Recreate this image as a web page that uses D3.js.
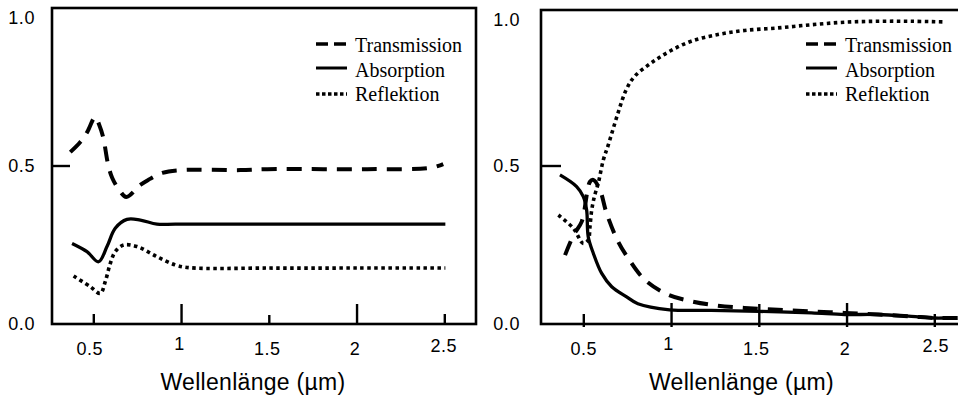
<!DOCTYPE html>
<html>
<head>
<meta charset="utf-8">
<script src="https://cdn.jsdelivr.net/npm/d3@7"></script>
<style>
  html, body { margin: 0; padding: 0; background: #fff; }
  svg { display: block; }
</style>
</head>
<body>
<svg id="chart" width="958" height="398"></svg>
<script>
// ---- Data: wavelength (µm) and fraction of incident radiation ----
// Left panel
const leftTransX = [0.369, 0.426, 0.466, 0.511, 0.534, 0.557, 0.585, 0.608, 0.648, 0.688, 0.768, 0.813, 0.893, 0.996, 1.338, 1.491, 2.061, 2.42, 2.494];
const leftTransY = [0.544, 0.576, 0.608, 0.655, 0.630, 0.589, 0.503, 0.462, 0.424, 0.402, 0.440, 0.456, 0.478, 0.487, 0.487, 0.490, 0.490, 0.494, 0.506];
const leftAbsX = [0.379, 0.464, 0.530, 0.578, 0.625, 0.692, 0.768, 0.863, 0.967, 1.5, 2.0, 2.506];
const leftAbsY = [0.255, 0.229, 0.197, 0.245, 0.303, 0.331, 0.329, 0.316, 0.316, 0.316, 0.316, 0.316];
const leftReflX = [0.388, 0.483, 0.540, 0.568, 0.597, 0.625, 0.673, 0.749, 0.863, 0.967, 1.053, 1.5, 2.0, 2.506];
const leftReflY = [0.152, 0.118, 0.097, 0.134, 0.192, 0.229, 0.250, 0.245, 0.213, 0.187, 0.178, 0.177, 0.177, 0.177];

// Right panel
const rightTransX = [0.396, 0.445, 0.491, 0.538, 0.557, 0.595, 0.633, 0.699, 0.756, 0.852, 0.982, 1.115, 1.267, 1.419, 1.609, 1.80, 1.989, 2.179, 2.369, 2.498, 2.635];
const rightTransY = [0.218, 0.282, 0.324, 0.450, 0.456, 0.424, 0.350, 0.260, 0.208, 0.139, 0.093, 0.072, 0.058, 0.051, 0.045, 0.040, 0.035, 0.030, 0.024, 0.019, 0.019];
const rightAbsX = [0.367, 0.462, 0.500, 0.519, 0.528, 0.557, 0.605, 0.662, 0.747, 0.811, 0.992, 1.229, 1.501, 1.80, 1.989, 2.179, 2.369, 2.498, 2.559];
const rightAbsY = [0.472, 0.435, 0.403, 0.361, 0.276, 0.224, 0.160, 0.118, 0.086, 0.064, 0.045, 0.043, 0.040, 0.035, 0.030, 0.030, 0.024, 0.019, 0.019];
const rightReflX = [0.358, 0.443, 0.500, 0.528, 0.538, 0.548, 0.563, 0.585, 0.614, 0.642, 0.698, 0.745, 0.793, 0.887, 0.992, 1.115, 1.267, 1.419, 1.609, 1.80, 1.989, 2.179, 2.369, 2.549];
const rightReflY = [0.345, 0.303, 0.255, 0.266, 0.308, 0.361, 0.403, 0.445, 0.519, 0.566, 0.668, 0.742, 0.784, 0.826, 0.863, 0.895, 0.916, 0.929, 0.937, 0.947, 0.955, 0.958, 0.958, 0.956];

// Axis ticks and labels
const xTickValues = [0.5, 1, 1.5, 2, 2.5];
const xTickLabels = ["0.5", "1", "1.5", "2", "2.5"];
const yTickValues = [0, 0.5, 1];
const yTickLabels = ["0.0", "0.5", "1.0"];
const seriesNames = ["Transmission", "Absorption", "Reflektion"];
const xAxisTitle = "Wellenlänge (µm)";

// ---- Layout and styles ----
const seriesStyle = [
  { width: 4,   dash: "15,10",   legendDash: "12,6" },
  { width: 3.3, dash: null,      legendDash: null },
  { width: 3.6, dash: "3.5,3.5", legendDash: "3.5,2.5" }
];

const panels = [
  {
    frame: { x0: 52, y0: 8, x1: 476, y1: 324 },
    xRange: [93.3, 444.3],
    yTickLen: 18,
    xTickLen: [10, 20, 9, 20, 10],
    xTickOut: 0,
    xLabelNudge: [0, -5, 0, 0, -3],
    xLabelShift: [-4, -2, -2, -2, -1],
    yLabelGap: 17,
    legendLine: [316, 347],
    legendText: 355,
    series: [
      { x: leftTransX, y: leftTransY },
      { x: leftAbsX, y: leftAbsY },
      { x: leftReflX, y: leftReflY }
    ]
  },
  {
    frame: { x0: 541, y0: 10, x1: 964, y1: 324 },
    xRange: [583.3, 934.3],
    yTickLen: 20,
    xTickLen: [10, 21, 20, 21, 10],
    xTickOut: 3,
    xLabelNudge: [0, -5, 0, 0, -3],
    xLabelShift: [0, -3, -3, -2, 1],
    yLabelGap: 21,
    legendLine: [806, 837],
    legendText: 845,
    series: [
      { x: rightTransX, y: rightTransY },
      { x: rightAbsX, y: rightAbsY },
      { x: rightReflX, y: rightReflY }
    ]
  }
];

const legendRows = [44, 68, 94];
const legendBaselines = [52, 77, 101];
const sansFont = "'Liberation Sans', Arial, Helvetica, sans-serif";

const svg = d3.select("#chart");

panels.forEach(p => {
  const f = p.frame;
  const x = d3.scaleLinear().domain([0.5, 2.5]).range(p.xRange);
  const y = d3.scaleLinear().domain([0, 1]).range([324, 8]);
  const g = svg.append("g");

  // curves
  const line = d3.line()
    .x(d => x(d[0]))
    .y(d => y(d[1]))
    .curve(d3.curveCatmullRom.alpha(0.5));

  p.series.forEach((s, i) => {
    const pts = s.x.map((v, k) => [v, s.y[k]]);
    const st = seriesStyle[i];
    g.append("path")
      .attr("d", line(pts))
      .attr("fill", "none")
      .attr("stroke", "#000")
      .attr("stroke-width", st.width)
      .attr("stroke-linejoin", "round")
      .attr("stroke-dasharray", st.dash);
  });

  // frame
  g.append("rect")
    .attr("x", f.x0).attr("y", f.y0)
    .attr("width", f.x1 - f.x0).attr("height", f.y1 - f.y0)
    .attr("fill", "none").attr("stroke", "#000").attr("stroke-width", 2.6);

  // x axis: ticks pointing into the plot, of alternating length
  const xAxis = d3.axisBottom(x)
    .tickValues(xTickValues)
    .tickFormat((d, i) => xTickLabels[i])
    .tickSizeOuter(0);
  const xg = g.append("g").attr("transform", `translate(0,${f.y1})`).call(xAxis)
    .attr("font-family", sansFont).attr("font-size", 18);
  xg.select(".domain").remove();
  xg.selectAll(".tick line")
    .attr("y1", p.xTickOut)
    .attr("y2", (d, i) => -p.xTickLen[i])
    .attr("stroke", "#000").attr("stroke-width", 2.4);
  xg.selectAll(".tick text")
    .attr("y", (d, i) => 31 + p.xLabelNudge[i])
    .attr("dy", 0)
    .attr("x", (d, i) => p.xLabelShift[i])
    .attr("fill", "#000")
    .style("letter-spacing", "0.6px");

  // y axis: labels outside, a single tick at 0.5
  const yAxis = d3.axisLeft(y)
    .tickValues(yTickValues)
    .tickFormat((d, i) => yTickLabels[i])
    .tickSizeOuter(0);
  const yg = g.append("g").attr("transform", `translate(${f.x0},0)`).call(yAxis)
    .attr("font-family", sansFont).attr("font-size", 18);
  yg.select(".domain").remove();
  yg.selectAll(".tick").attr("transform", null);
  yg.selectAll(".tick line")
    .attr("x1", 0).attr("x2", d => d === 0.5 ? p.yTickLen : 0)
    .attr("y1", d => y(d)).attr("y2", d => y(d))
    .attr("stroke", "#000").attr("stroke-width", 2.4);
  yg.selectAll(".tick text")
    .attr("x", -p.yLabelGap)
    .attr("y", d => Math.max(y(d) + 6, f.y0 + 16))
    .attr("dy", 0)
    .attr("text-anchor", "end")
    .attr("fill", "#000")
    .style("letter-spacing", "0.6px");

  // axis title
  g.append("text")
    .attr("x", (f.x0 + f.x1) / 2 - 11)
    .attr("y", 390)
    .attr("text-anchor", "middle")
    .attr("font-family", sansFont)
    .attr("font-size", 23)
    .style("letter-spacing", "0.3px")
    .text(xAxisTitle);

  // legend
  seriesNames.forEach((name, i) => {
    const st = seriesStyle[i];
    g.append("line")
      .attr("x1", p.legendLine[0]).attr("x2", p.legendLine[1])
      .attr("y1", legendRows[i]).attr("y2", legendRows[i])
      .attr("stroke", "#000")
      .attr("stroke-width", i === 1 ? 3 : 3.4)
      .attr("stroke-dasharray", st.legendDash);
    g.append("text")
      .attr("x", p.legendText)
      .attr("y", legendBaselines[i])
      .attr("font-family", "'Liberation Serif', 'Times New Roman', serif")
      .attr("font-size", 20)
      .text(name);
  });
});
</script>
</body>
</html>
